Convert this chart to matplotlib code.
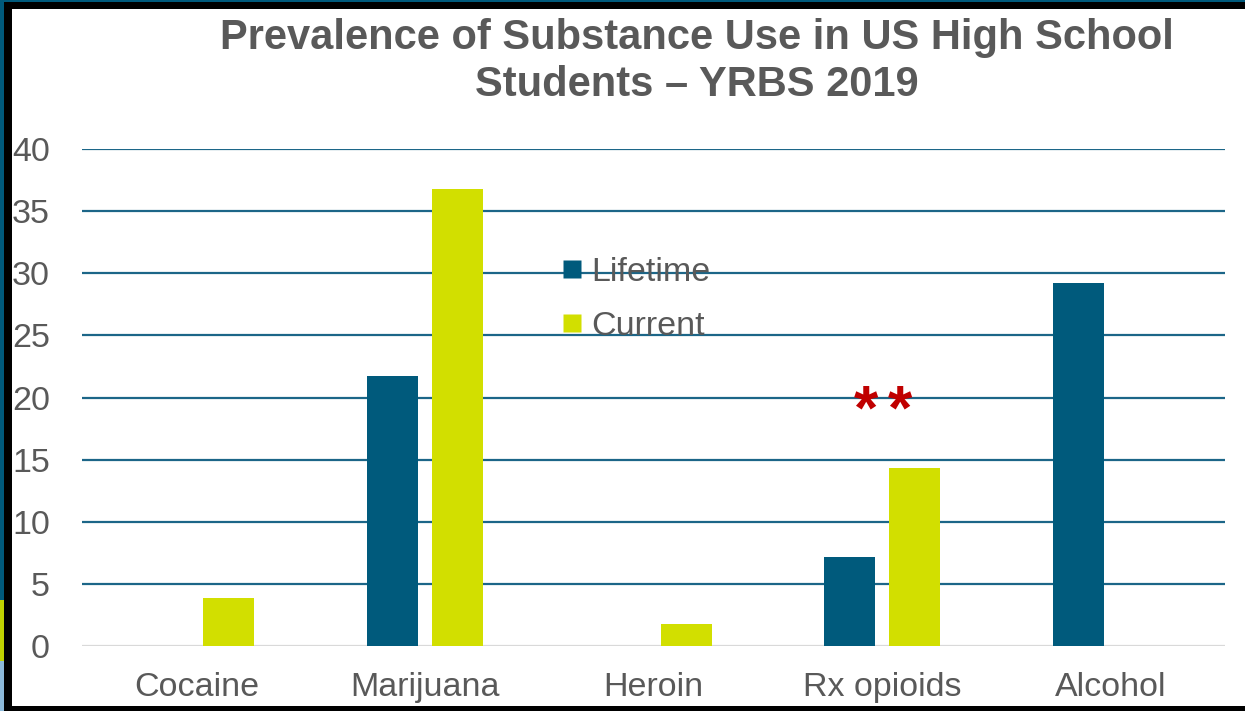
import numpy as np
import matplotlib.pyplot as plt
from matplotlib.lines import Line2D
from matplotlib.patches import Rectangle

categories = ["Cocaine", "Marijuana", "Heroin", "Rx opioids", "Alcohol"]
lifetime = [0, 21.7, 0, 7.2, 29.2]
current = [3.9, 36.8, 1.8, 14.3, 0]
series_names = ["Lifetime", "Current"]

LIFETIME_C = "#005A7C"
CURRENT_C = "#D2DF00"
GRID_C = "#1C6688"
TEXT_C = "#595959"

plt.rcParams["font.family"] = ["Liberation Sans", "DejaVu Sans"]

fig = plt.figure(figsize=(12.45, 7.11), dpi=100)

# slide background showing at the edges, then the black frame
fig.patches.append(Rectangle((0, 0), 1, 1, transform=fig.transFigure,
                             facecolor="#005A7C", edgecolor="none", zorder=-5))
fig.patches.append(Rectangle((0, 0.07), 0.01, 0.086, transform=fig.transFigure,
                             facecolor="#BFD200", edgecolor="none", zorder=-4))
fig.patches.append(Rectangle((0, 0), 0.01, 0.07, transform=fig.transFigure,
                             facecolor="#8CB9D9", edgecolor="none", zorder=-4))
fig.patches.append(Rectangle((0.0032, 0), 1, 0.9972, transform=fig.transFigure,
                             facecolor="black", edgecolor="none", zorder=-3))
fig.patches.append(Rectangle((0.0096, 0.0077), 1, 0.9796, transform=fig.transFigure,
                             facecolor="white", edgecolor="none", zorder=-2))

ax = fig.add_axes([0.0659, 0.0914, 0.9181, 0.699])
ax.set_facecolor("none")

x = np.arange(len(categories))
w = 0.223
off = 0.142
ax.bar(x - off, lifetime, w, color=LIFETIME_C, zorder=3)
ax.bar(x + off, current, w, color=CURRENT_C, zorder=3)

ax.set_xlim(-0.5, len(categories) - 0.5)
ax.set_ylim(0, 40)
ax.set_yticks(np.arange(0, 41, 5))
ax.set_xticks(x)
ax.set_xticklabels(categories)
ax.tick_params(axis="both", length=0, labelsize=24.5, labelcolor=TEXT_C)
ax.tick_params(axis="y", pad=23)
ax.tick_params(axis="x", pad=19)

for v in np.arange(5, 41, 5):
    ax.axhline(v, color=GRID_C, lw=1.6, zorder=1)
ax.axhline(0, color="#D9D9D9", lw=1.6, zorder=2)
for s in ax.spines.values():
    s.set_visible(False)

handles = [Line2D([], [], ls="", marker="s", ms=13, mec="none", color=c)
           for c in (LIFETIME_C, CURRENT_C)]
leg = ax.legend(handles, series_names, loc="upper left", bbox_to_anchor=(0.408, 0.81),
                frameon=False, fontsize=24.5, handlelength=0.6, handletextpad=0.25,
                labelspacing=0.67, borderaxespad=0)
for t in leg.get_texts():
    t.set_color(TEXT_C)

# significance marks over Rx opioids
for dx in (-0.07, 0.077):
    ax.text(3 + dx, 17.5, "*", color="#C00000", fontsize=45, fontweight="bold",
            ha="center", va="baseline", zorder=4)

fig.text(0.5594, 0.914, "Prevalence of Substance Use in US High School\nStudents \u2013 YRBS 2019",
         ha="center", va="center", fontsize=30, fontweight="bold", color=TEXT_C,
         linespacing=1.22)

fig.savefig("out.png", dpi=100)
